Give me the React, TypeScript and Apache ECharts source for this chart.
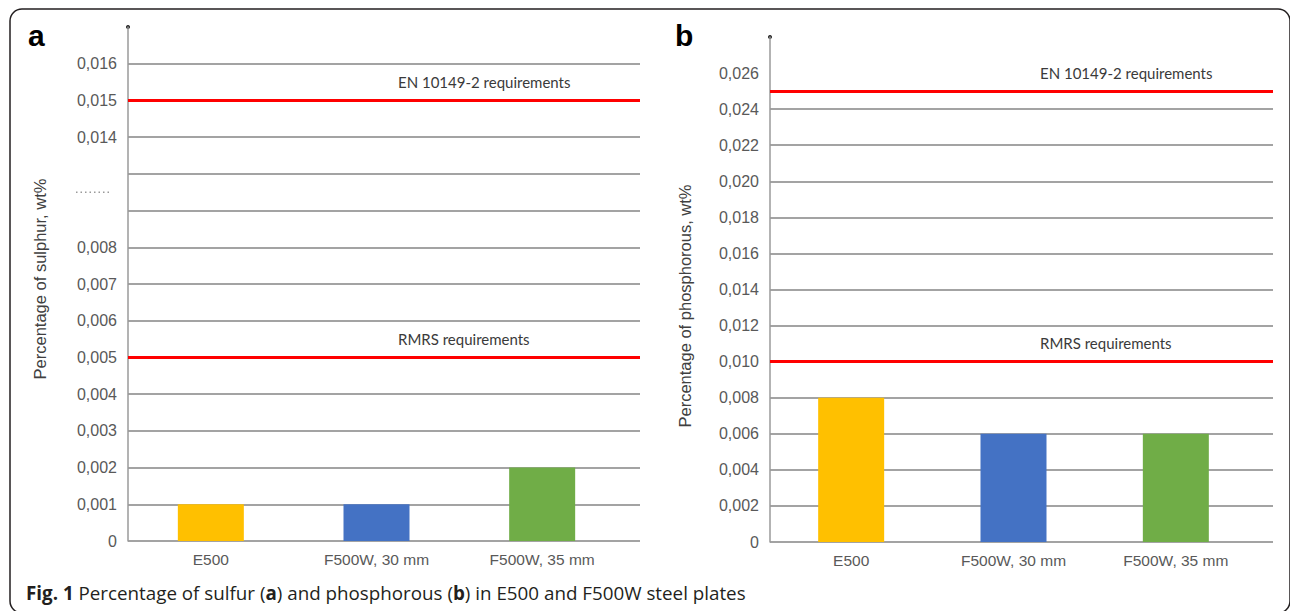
import React, { useEffect, useRef } from "react";
import * as echarts from "echarts";

// ---------- data ----------
const categories = ["E500", "F500W, 30 mm", "F500W, 35 mm"];
const sulfur = [0.001, 0.001, 0.002];
const phosphorous = [0.008, 0.006, 0.006];
const barColors = ["#FFC000", "#4472C4", "#70AD47"];
const limitNames = ["EN 10149-2 requirements", "RMRS requirements"];
const sulfurLimits = [0.015, 0.005];
const phosphorousLimits = [0.025, 0.01];
// broken sulfur axis: one slot per level, two unlabeled slots stand for the gap
const sulfurTickLabels = [
  "0", "0,001", "0,002", "0,003", "0,004", "0,005", "0,006", "0,007", "0,008",
  "", "", "0,014", "0,015", "0,016", "",
];
const phosphorousMax = 0.028;
const phosphorousStep = 0.002;

// sulfur value -> slot on the broken axis
const sulfurSlot = (v: number) => (v <= 0.008 ? v * 1000 : v * 1000 - 3);

const FONT = "'Liberation Sans', Arial, sans-serif";
const GRID_COLOR = "#a3a3a3";
const LABEL_COLOR = "#595959";

const L = { axisLeft: 128, gridRight: 640, barRight: 625, top: 27, bottom: 541 };
const R = { axisLeft: 770, gridRight: 1273, barRight: 1257, top: 37, bottom: 542 };

// right panel: the 0,026 gridline is hidden under the label box in the original
const rightGridColors = Array.from({ length: 15 }, (_, i) => (i === 13 ? "rgba(0,0,0,0)" : GRID_COLOR));

function yAxisVisible(
  gridIndex: number, max: number, interval: number,
  formatter: (v: number) => string, lineColor: any
) {
  return {
    type: "value",
    gridIndex,
    min: 0,
    max,
    interval,
    axisLine: { show: true, lineStyle: { color: "#9a9a9a", width: 1.5 } },
    axisTick: { show: false },
    axisLabel: { color: LABEL_COLOR, fontSize: 16, fontFamily: FONT, margin: 11, formatter },
    splitLine: { show: true, showMaxLine: false, lineStyle: { color: lineColor, width: 2 } },
  };
}
function yAxisHidden(gridIndex: number, max: number, interval: number) {
  return {
    type: "value", gridIndex, min: 0, max, interval,
    axisLine: { show: false }, axisTick: { show: false }, axisLabel: { show: false }, splitLine: { show: false },
  };
}
function xAxisHidden(gridIndex: number) {
  return {
    type: "category", gridIndex, data: categories,
    axisLine: { show: false }, axisTick: { show: false }, axisLabel: { show: false }, splitLine: { show: false },
  };
}
function xAxisBars(gridIndex: number) {
  return {
    type: "category", gridIndex, data: categories,
    axisLine: { show: false }, axisTick: { show: false },
    axisLabel: { color: LABEL_COLOR, fontSize: 15.5, fontFamily: FONT, margin: 10 },
    splitLine: { show: false },
  };
}
function limitSeries(axisIndex: number, values: number[]) {
  return {
    type: "line",
    xAxisIndex: axisIndex,
    yAxisIndex: axisIndex,
    data: [],
    silent: true,
    markLine: {
      silent: true,
      precision: 6,
      symbol: ["none", "none"],
      lineStyle: { color: "#ff0000", width: 3, type: "solid" },
      label: {
        show: true,
        position: "insideStartTop",
        distance: [270, 11],
        color: "#3a3a3a",
        fontSize: 15,
        fontFamily: "Lato, 'Open Sans', sans-serif",
      },
      data: values.map((v, i) => ({ yAxis: v, label: { formatter: limitNames[i] } })),
    },
  };
}
function barSeries(axisIndex: number, values: number[]) {
  return {
    type: "bar",
    xAxisIndex: axisIndex,
    yAxisIndex: axisIndex,
    barWidth: 66,
    data: values.map((v, i) => ({ value: v, itemStyle: { color: barColors[i] } })),
  };
}

export default function App() {
  const ref = useRef<HTMLDivElement>(null);
  useEffect(() => {
    if (!ref.current) return;
    const chart = echarts.init(ref.current, null, { renderer: "svg" });
    const option: any = {
      animation: false,
      backgroundColor: "#ffffff",
      grid: [
        { left: L.axisLeft, top: L.top, width: L.gridRight - L.axisLeft, height: L.bottom - L.top },
        { left: L.axisLeft, top: L.top, width: L.barRight - L.axisLeft, height: L.bottom - L.top },
        { left: R.axisLeft, top: R.top, width: R.gridRight - R.axisLeft, height: R.bottom - R.top },
        { left: R.axisLeft, top: R.top, width: R.barRight - R.axisLeft, height: R.bottom - R.top },
      ],
      xAxis: [xAxisHidden(0), xAxisBars(1), xAxisHidden(2), xAxisBars(3)],
      yAxis: [
        yAxisVisible(0, sulfurTickLabels.length - 1, 1,
          (v: number) => sulfurTickLabels[Math.round(v)] ?? "", GRID_COLOR),
        yAxisHidden(1, sulfurTickLabels.length - 1, 1),
        yAxisVisible(2, phosphorousMax, phosphorousStep, (v: number) =>
          v > phosphorousMax - 1e-6 ? "" : v === 0 ? "0" : v.toFixed(3).replace(".", ","),
          rightGridColors),
        yAxisHidden(3, phosphorousMax, phosphorousStep),
      ],
      series: [
        limitSeries(0, sulfurLimits.map(sulfurSlot)),
        barSeries(1, sulfur.map(sulfurSlot)),
        limitSeries(2, phosphorousLimits),
        barSeries(3, phosphorous),
      ],
    };
    chart.setOption(option);

    const topL = chart.convertToPixel({ yAxisIndex: 0 }, sulfurTickLabels.length - 1) as number;
    const topR = chart.convertToPixel({ yAxisIndex: 2 }, phosphorousMax) as number;
    const gapY = chart.convertToPixel({ yAxisIndex: 0 }, 9.5) as number;

    chart.setOption({
      graphic: [
        {
          type: "rect",
          shape: { x: 10, y: 9, width: 1280, height: 604, r: 12 },
          style: { fill: "none", stroke: "#231f20", lineWidth: 1.5 },
          silent: true,
        },
        { type: "circle", shape: { cx: L.axisLeft, cy: topL, r: 2 }, style: { fill: "#222" } },
        { type: "circle", shape: { cx: R.axisLeft, cy: topR, r: 2 }, style: { fill: "#222" } },
        {
          type: "line",
          shape: { x1: 76, y1: gapY, x2: 112, y2: gapY },
          style: { stroke: "#9a9a9a", lineWidth: 1.5, lineDash: [1.5, 3] },
        },
        {
          type: "text", x: 28, y: 50,
          style: { text: "a", fontSize: 30, fontWeight: "bold", fontFamily: FONT, fill: "#000", verticalAlign: "bottom" },
        },
        {
          type: "text", x: 675, y: 50,
          style: { text: "b", fontSize: 30, fontWeight: "bold", fontFamily: FONT, fill: "#000", verticalAlign: "bottom" },
        },
        {
          type: "text", x: 40, y: 279, rotation: Math.PI / 2,
          style: { text: "Percentage of sulphur, wt%", fontSize: 16.5, fontFamily: FONT, fill: "#404040", align: "center", verticalAlign: "middle" },
        },
        {
          type: "text", x: 685, y: 306, rotation: Math.PI / 2,
          style: { text: "Percentage of phosphorous, wt%", fontSize: 16.5, fontFamily: FONT, fill: "#404040", align: "center", verticalAlign: "middle" },
        },
        {
          type: "text", x: 26, y: 593,
          style: {
            text: "{b|Fig. 1} Percentage of sulfur ({b|a}) and phosphorous ({b|b}) in E500 and F500W steel plates",
            fontSize: 18.8,
            fontFamily: "'Open Sans', sans-serif",
            fill: "#231f20",
            verticalAlign: "middle",
            rich: { b: { fontWeight: "bold", fontSize: 18.8, fontFamily: "'Open Sans', sans-serif", fill: "#231f20" } },
          },
        },
      ],
    });

    return () => chart.dispose();
  }, []);
  return <div ref={ref} style={{ position: "fixed", left: 0, top: 0, width: 1290, height: 611 }} />;
}
